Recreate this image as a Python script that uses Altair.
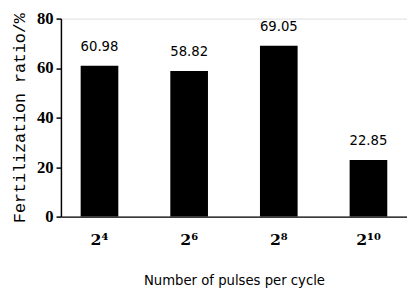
import altair as alt
import pandas as pd

categories = ["2⁴", "2⁶", "2⁸", "2¹⁰"]
values = [60.98, 58.82, 69.05, 22.85]
labels = ["60.98", "58.82", "69.05", "22.85"]

df = pd.DataFrame({"pulses": categories, "ratio": values, "label": labels})

x = alt.X("pulses:N", sort=categories,
          scale=alt.Scale(paddingInner=0.58, paddingOuter=0.22),
          axis=alt.Axis(title="Number of pulses per cycle", labelAngle=0,
                        ticks=False, labelFont="DejaVu Serif", labelFontSize=16,
                        labelFontWeight="bold", labelColor="black", labelPadding=15,
                        titleFont="DejaVu Sans Condensed", titleFontSize=15,
                        titleFontWeight="normal", titleColor="black", titlePadding=26,
                        domainColor="black", domainWidth=1.5))
y = alt.Y("ratio:Q", scale=alt.Scale(domain=[0, 80]),
          axis=alt.Axis(title="Fertilization ratio/%", values=[0, 20, 40, 60, 80],
                        grid=False, tickSize=5, tickColor="black", tickWidth=1.5,
                        labelFont="Liberation Serif", labelFontSize=17, labelFontWeight="bold",
                        labelColor="black", labelPadding=3,
                        titleFont="Liberation Mono, DejaVu Sans Mono, monospace",
                        titleFontSize=17, titleFontWeight="normal",
                        titleColor="black", titlePadding=8,
                        domainColor="black", domainWidth=1.5))

bars = alt.Chart(df).mark_bar(color="black").encode(x=x, y=y)
text = alt.Chart(df).mark_text(dy=-12, font="DejaVu Sans Condensed", fontSize=15,
                                color="black", baseline="bottom").encode(
    x=alt.X("pulses:N", sort=categories), y="ratio:Q", text="label:N")

chart = (bars + text).properties(
    width=353, height=202,
    autosize=alt.AutoSizeParams(type="none"),
    padding={"left": 54, "top": 8, "right": 0, "bottom": 70},
).configure_view(stroke=None).configure(background="white")

chart.save("out.html", embed_options={"renderer": "svg", "actions": False})
